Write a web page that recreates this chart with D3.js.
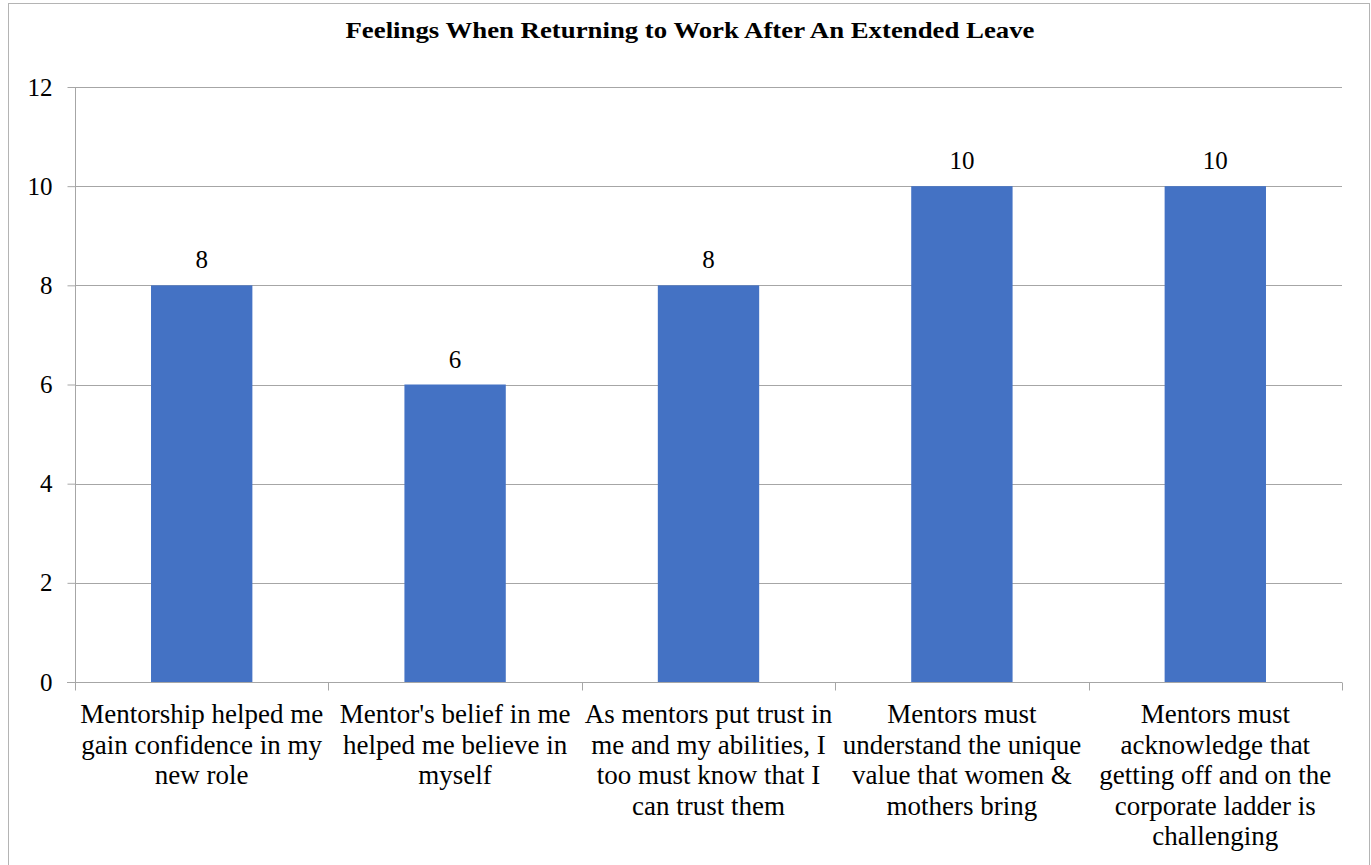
<!DOCTYPE html>
<html>
<head>
<meta charset="utf-8">
<script src="https://cdn.jsdelivr.net/npm/d3@7/dist/d3.min.js"></script>
<style>
  body { margin: 0; padding: 0; background: #fff; overflow: hidden; }
</style>
</head>
<body>
<script>
    // chart data
    const title = "Feelings When Returning to Work After An Extended Leave";
    const categories = [
      ["Mentorship helped me", "gain confidence in my", "new role"],
      ["Mentor's belief in me", "helped me believe in", "myself"],
      ["As mentors put trust in", "me and my abilities, I", "too must know that I", "can trust them"],
      ["Mentors must", "understand the unique", "value that women &", "mothers bring"],
      ["Mentors must", "acknowledge that", "getting off and on the", "corporate ladder is", "challenging"]
    ];
    const values = [8, 6, 8, 10, 10];
    const yTicks = [0, 2, 4, 6, 8, 10, 12];

    const serif = '"Liberation Serif"';
    const width = 1371, height = 865;
    const margin = {left: 75, right: 29, top: 87, bottom: 183};

    const svg = d3.select("body").append("svg")
      .attr("width", width)
      .attr("height", height);

    // outer chart border
    svg.append("rect")
      .attr("x", 8.5).attr("y", 3.5)
      .attr("width", 1361).attr("height", 880)
      .attr("fill", "none")
      .attr("stroke", "#b4b4b4");

    svg.append("text")
      .attr("x", 690).attr("y", 38)
      .attr("text-anchor", "middle")
      .style("font-family", serif)
      .style("font-size", "23px")
      .style("font-weight", "bold")
      .attr("textLength", 689)
      .attr("lengthAdjust", "spacingAndGlyphs")
      .text(title);

    const x = d3.scaleBand()
      .domain(d3.range(values.length))
      .range([margin.left, width - margin.right])
      .paddingInner(0.6).paddingOuter(0.3);

    const xOuter = d3.scaleBand()
      .domain(d3.range(values.length))
      .range([margin.left, width - margin.right]);

    const y = d3.scaleLinear()
      .domain([0, 12])
      .range([height - margin.bottom, margin.top]);

    // gridlines
    svg.append("g")
      .selectAll("line")
      .data(yTicks.slice(1))
      .join("line")
      .attr("x1", margin.left).attr("x2", width - margin.right)
      .attr("y1", d => Math.round(y(d)) + 0.5).attr("y2", d => Math.round(y(d)) + 0.5)
      .attr("stroke", "#a6a6a6");

    // bars
    svg.append("g")
      .selectAll("rect")
      .data(values)
      .join("rect")
      .attr("x", (d, i) => x(i))
      .attr("y", d => y(d))
      .attr("width", x.bandwidth())
      .attr("height", d => y(0) - y(d))
      .attr("fill", "#4472c4");

    // value labels
    svg.append("g")
      .selectAll("text")
      .data(values)
      .join("text")
      .attr("x", (d, i) => x(i) + x.bandwidth() / 2)
      .attr("y", d => y(d) - 17)
      .attr("text-anchor", "middle")
      .style("font-family", serif)
      .style("font-size", "25px")
      .text(d => d);

    // y axis
    const yAxis = svg.append("g")
      .attr("transform", `translate(${margin.left + 0.5},0)`)
      .call(d3.axisLeft(y).tickValues(yTicks).tickSize(8).tickPadding(15));
    yAxis.attr("font-family", null).attr("font-size", null);
    yAxis.selectAll("path, line").attr("stroke", "#a6a6a6");
    yAxis.select(".domain").attr("d", `M0,${y(12)}V${y(0)}`);
    yAxis.selectAll("text")
      .style("font-size", "25px")
      .style("font-family", serif)
      .attr("fill", "#000");

    // x axis line with category boundary ticks
    const base = Math.round(y(0)) + 0.5;
    svg.append("line")
      .attr("x1", margin.left - 8).attr("x2", width - margin.right)
      .attr("y1", base).attr("y2", base)
      .attr("stroke", "#a6a6a6");
    const bounds = d3.range(values.length + 1).map(i => i < values.length ? xOuter(i) : xOuter(i - 1) + xOuter.bandwidth());
    svg.append("g")
      .selectAll("line")
      .data(bounds)
      .join("line")
      .attr("x1", d => Math.round(d) + 0.5).attr("x2", d => Math.round(d) + 0.5)
      .attr("y1", base).attr("y2", base + 8)
      .attr("stroke", "#a6a6a6");

    // category labels
    const catG = svg.append("g")
      .selectAll("text")
      .data(categories)
      .join("text")
      .attr("text-anchor", "middle")
      .style("font-family", serif)
      .style("font-size", "27px");
    catG.selectAll("tspan")
      .data((d, i) => d.map(line => ({line, i})))
      .join("tspan")
      .attr("x", d => xOuter(d.i) + xOuter.bandwidth() / 2)
      .attr("y", (d, j) => 723 + j * 30.5)
      .text(d => d.line);
</script>
</body>
</html>
